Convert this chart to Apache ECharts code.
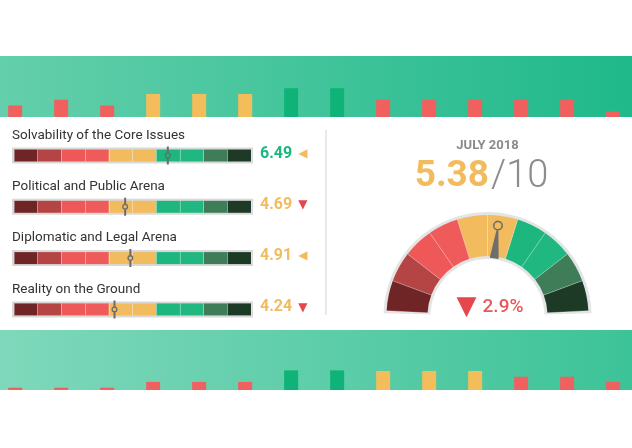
<!DOCTYPE html>
<html>
<head>
<meta charset="utf-8">
<script src="https://cdn.jsdelivr.net/npm/echarts@6/dist/echarts.min.js"></script>
<style>
  html, body { margin: 0; padding: 0; background: #fff; }
  #chart { width: 632px; height: 448px; }
</style>
</head>
<body>
<div id="chart"></div>
<script>
// scale segments 0..10, shared by the row bars and the gauge
var segColors = ['#6f2525', '#b54444', '#ef5858', '#ef5a5a', '#f2bc5e', '#f2bc5e', '#1db67f', '#20b781', '#3f7d58', '#1d3a26']
var segNames = ['0', '1', '2', '3', '4', '5', '6', '7', '8', '9']

var rowLabels = ['Solvability of the Core Issues', 'Political and Public Arena', 'Diplomatic and Legal Arena', 'Reality on the Ground']
var rowScores = [6.49, 4.69, 4.91, 4.24]
var rowTrends = ['flat', 'down', 'flat', 'down']

var overallMonth = 'JULY 2018'
var overallScore = 5.38
var overallMax = 10
var overallChange = 2.9
var overallTrend = 'down'

// decorative bars in the two green bands
var topBars = [2, 3, 2, 4, 4, 4, 5, 5, 3, 3, 3, 3, 3, 1]
var topBarKinds = ['red', 'red', 'red', 'yellow', 'yellow', 'yellow', 'green', 'green', 'red', 'red', 'red', 'red', 'red', 'red']
var bottomBars = [0.4, 0.4, 0.4, 1.4, 1.4, 1.4, 3.4, 3.4, 3.3, 3.3, 3.3, 2.3, 2.3, 1.4]
var bottomBarKinds = ['red', 'red', 'red', 'red', 'red', 'red', 'green', 'green', 'yellow', 'yellow', 'yellow', 'red', 'red', 'red']

var kindColor = { red: '#f0605e', yellow: '#f3bd5c', green: '#0fb377' }
var trendStyle = {
  flat: { ch: '\u25C0', color: '#f2bc5e' },
  down: { ch: '\u25BC', color: '#e5474c' }
}
var font = 'Roboto, "Noto Sans", sans-serif'

// marker on the row bars: gray stem with a small ring
var markerPath = 'path://M2,0L4,0L4,6.3L2,6.3Z M2,11.7L4,11.7L4,18L2,18Z M0,9A3,3 0 1,1 6,9A3,3 0 1,1 0,9Z M1.3,9A1.7,1.7 0 1,0 4.7,9A1.7,1.7 0 1,0 1.3,9Z'
// gauge needle with ring at its tip
var needlePath = 'path://M0,5A5,5 0 1,1 10,5A5,5 0 1,1 0,5Z M1.6,5A3.4,3.4 0 1,0 8.4,5A3.4,3.4 0 1,0 1.6,5Z M4,10L6,10L9.5,38L0.5,38Z'

var grid = [], xAxis = [], yAxis = [], series = [], graphic = []

function band (top, height, max, values, kinds, c1, c2) {
  var gi = grid.length
  grid.push({
    left: 0, right: 0, top: top, height: height, show: true, borderWidth: 0,
    backgroundColor: new echarts.graphic.LinearGradient(0, 0, 1, 0, [
      { offset: 0, color: c1 }, { offset: 1, color: c2 }
    ])
  })
  // bar index on a value axis so the first bar sits near the left edge
  xAxis.push({ type: 'value', gridIndex: gi, min: -0.33, max: 13.41, show: false })
  yAxis.push({ type: 'value', gridIndex: gi, min: 0, max: max, show: false })
  series.push({
    type: 'bar',
    xAxisIndex: xAxis.length - 1,
    yAxisIndex: yAxis.length - 1,
    barWidth: 14,
    silent: true,
    data: values.map(function (v, i) {
      return { value: [i, v], itemStyle: { color: kindColor[kinds[i]] } }
    })
  })
}

band(56, 61, 10.6, topBars, topBarKinds, '#64cfab', '#1fb98a')
band(330, 60, 10.4, bottomBars, bottomBarKinds, '#7fd8bb', '#3dc398')

// left panel rows
rowLabels.forEach(function (label, r) {
  var top = 149.5 + r * 51.3
  var gi = grid.length
  grid.push({
    left: 14, width: 237, top: top, height: 12,
    show: true, borderColor: '#d9d9d9', borderWidth: 4, backgroundColor: '#d9d9d9'
  })
  var xCat = xAxis.length
  xAxis.push({
    type: 'category', gridIndex: gi, data: segNames, z: 5,
    axisLine: { show: false }, axisTick: { show: false }, axisLabel: { show: false },
    splitLine: { show: true, interval: 0, lineStyle: { color: 'rgba(255,255,255,0.35)', width: 1 } }
  })
  var xVal = xAxis.length
  xAxis.push({ type: 'value', gridIndex: gi, min: 0, max: 10, show: false })
  var yi = yAxis.length
  yAxis.push({ type: 'value', gridIndex: gi, min: 0, max: 1, show: false })

  series.push({
    type: 'bar', xAxisIndex: xCat, yAxisIndex: yi, barCategoryGap: 0, silent: true,
    data: segColors.map(function (c) { return { value: 1, itemStyle: { color: c } } })
  })
  series.push({
    type: 'scatter', xAxisIndex: xVal, yAxisIndex: yi, z: 10, silent: true,
    symbol: markerPath, symbolSize: [6, 18],
    itemStyle: { color: '#6b6b6b', opacity: 1 },
    data: [[rowScores[r], 0.5]]
  })

  var score = rowScores[r]
  var tr = trendStyle[rowTrends[r]]
  graphic.push({
    type: 'text', left: 12, top: top - 21,
    style: { text: label, font: '13.5px ' + font, fill: '#333' }
  })
  graphic.push({
    type: 'text', left: 260, top: top - 4,
    style: {
      text: '{v|' + score.toFixed(2) + '}{t|' + tr.ch + '}',
      rich: {
        v: { fontSize: 16, fontWeight: 'bold', fontFamily: font, fill: segColors[Math.floor(score)], lineHeight: 20 },
        t: { fontSize: 12, fontFamily: 'DejaVu Sans', fill: tr.color, padding: [0, 0, 0, 6], lineHeight: 20 }
      }
    }
  })
})

// divider between the panels
graphic.push({
  type: 'line', shape: { x1: 326, y1: 130, x2: 326, y2: 315 },
  style: { stroke: '#e2e2e2', lineWidth: 1.5 }
})

// overall change under the gauge
var ct = trendStyle[overallTrend]
graphic.push({
  type: 'text', x: 490, y: 307,
  style: {
    text: '{t|' + ct.ch + '}{v|' + overallChange.toFixed(1) + '%}',
    align: 'center', verticalAlign: 'middle',
    rich: {
      t: { fontSize: 26, fontFamily: 'DejaVu Sans', fill: ct.color, padding: [0, 6, 0, 0] },
      v: { fontSize: 19, fontWeight: 500, fontFamily: font, fill: '#e8585a' }
    }
  }
})

var gaugeCenter = [487.5, 316]
var gaugeStops = segColors.map(function (c, i) { return [(i + 1) / segColors.length, c] })

series.push({
  type: 'gauge', center: gaugeCenter, radius: 104, z: 1,
  startAngle: 178.5, endAngle: 1.5, min: 0, max: overallMax, silent: true,
  axisLine: { lineStyle: { width: 47, color: [[1, '#e4e4e4']] } },
  axisTick: { show: false }, splitLine: { show: false }, axisLabel: { show: false },
  pointer: { show: false }, anchor: { show: false }, title: { show: false }, detail: { show: false },
  data: [{ value: 0 }]
})

series.push({
  type: 'gauge', center: gaugeCenter, radius: 101, z: 3,
  startAngle: 177, endAngle: 3, min: 0, max: overallMax, splitNumber: 10,
  axisLine: { lineStyle: { width: 41, color: gaugeStops } },
  axisTick: { show: false },
  splitLine: { show: true, distance: -41, length: 41, lineStyle: { color: 'rgba(255,255,255,0.3)', width: 1 } },
  axisLabel: { show: false },
  pointer: { icon: needlePath, length: 38, width: 10, offsetCenter: [0, -58], itemStyle: { color: '#6e6e6e' } },
  anchor: { show: false },
  title: { offsetCenter: [0, -170], fontSize: 13, fontWeight: 'bold', fontFamily: font, color: '#8a8a8a' },
  detail: {
    offsetCenter: [-6, -139],
    formatter: function (v) { return '{a|' + v.toFixed(2) + '}{b|/' + overallMax + '}' },
    rich: {
      a: { fontSize: 37, fontWeight: 'bold', fontFamily: font, color: '#f2bc5e' },
      b: { fontSize: 38, fontWeight: 300, fontFamily: font, color: '#8c8c8c', padding: [0, 0, 0, 2] }
    }
  },
  data: [{ value: overallScore, name: overallMonth }]
})

var chart = echarts.init(document.getElementById('chart'))
chart.setOption({
  animation: false,
  backgroundColor: '#fff',
  grid: grid,
  xAxis: xAxis,
  yAxis: yAxis,
  series: series,
  graphic: graphic
})
</script>
</body>
</html>
